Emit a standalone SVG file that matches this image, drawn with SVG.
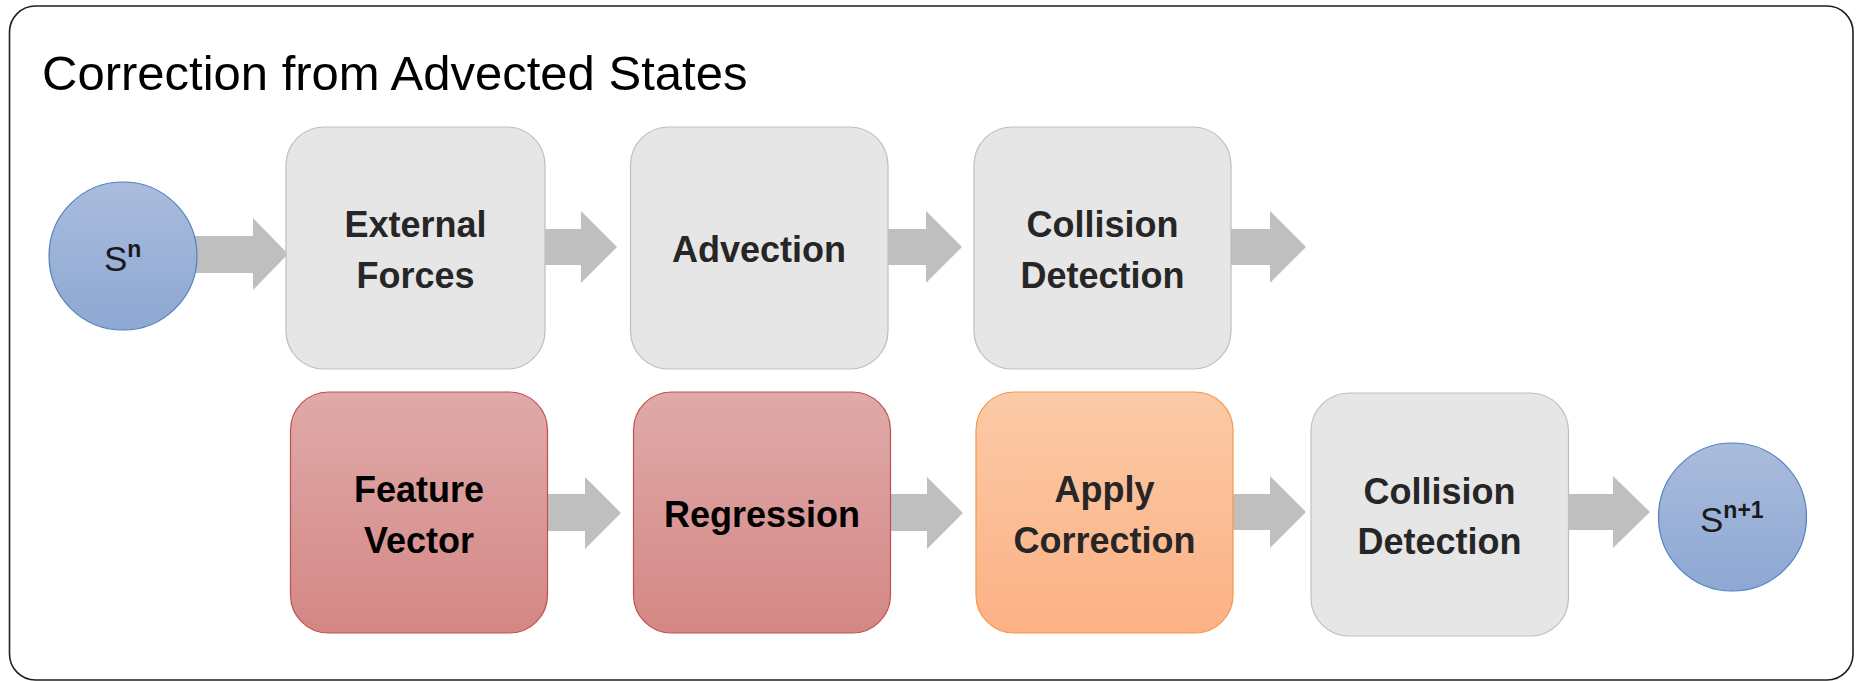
<svg xmlns="http://www.w3.org/2000/svg" width="1862" height="681" viewBox="0 0 1862 681">
<defs>
<linearGradient id="gBlue" x1="0" y1="0" x2="0" y2="1"><stop offset="0" stop-color="#aabcdd"/><stop offset="1" stop-color="#8da8d3"/></linearGradient>
<linearGradient id="gRed" x1="0" y1="0" x2="0" y2="1"><stop offset="0" stop-color="#dfaaa9"/><stop offset="1" stop-color="#d48785"/></linearGradient>
<linearGradient id="gOrange" x1="0" y1="0" x2="0" y2="1"><stop offset="0" stop-color="#fbcaa7"/><stop offset="1" stop-color="#fcb185"/></linearGradient>
</defs>
<style>
.frame{fill:#ffffff;stroke:#1f1f1f;stroke-width:1.6}
.title{font-family:"Liberation Sans",Arial,sans-serif;font-size:49px;fill:#000}
.gray{fill:#e6e6e6;stroke:#bfbfbf;stroke-width:1.2}
.red{fill:url(#gRed);stroke:#c0504d;stroke-width:1.2}
.orange{fill:url(#gOrange);stroke:#f79646;stroke-width:1.2}
.state{fill:url(#gBlue);stroke:#4f81bd;stroke-width:1.2}
.lbl{font-family:"Liberation Sans",Arial,sans-serif;font-weight:bold;font-size:36px;text-anchor:middle;fill:#262626}
.lblk{fill:#000}
.slbl{font-family:"Liberation Sans",Arial,sans-serif;font-size:35px;fill:#1a1a1a}
.sup{font-size:23px;font-weight:bold}
.arrow{fill:#bfbfbf;stroke:none}
</style>
<rect class="frame" x="9.5" y="6" width="1843.5" height="674" rx="26" ry="26"/>
<text class="title" x="42" y="90">Correction from Advected States</text>

<g id="connectors">
<polygon class="arrow" points="190,236 253,236 253,218 288,254 253,290 253,273 190,273"/>
<polygon class="arrow" points="545,229 581,229 581,211 617,247 581,283 581,265 545,265"/>
<polygon class="arrow" points="888,229 926,229 926,211 962,247 926,283 926,265 888,265"/>
<polygon class="arrow" points="1231,229 1270,229 1270,211 1306,247 1270,283 1270,265 1231,265"/>
<polygon class="arrow" points="547,494 585,494 585,477 621,513 585,549 585,531 547,531"/>
<polygon class="arrow" points="890,494 927,494 927,477 963,513 927,549 927,531 890,531"/>
<polygon class="arrow" points="1233,494 1270,494 1270,476 1306,512 1270,548 1270,530 1233,530"/>
<polygon class="arrow" points="1568,494 1613,494 1613,476 1650,512 1613,548 1613,530 1568,530"/>
</g>

<g id="node-sn">
<ellipse class="state" cx="123" cy="256" rx="74" ry="74"/>
<text class="slbl" x="104" y="271">S<tspan class="sup" dy="-14">n</tspan></text>
</g>

<g id="node-external-forces">
<rect class="gray" x="286" y="127" width="259" height="242" rx="38" ry="38"/>
<text class="lbl" x="415.5" y="237">External</text>
<text class="lbl" x="415.5" y="288">Forces</text>
</g>

<g id="node-advection">
<rect class="gray" x="630.5" y="127" width="257.5" height="242" rx="38" ry="38"/>
<text class="lbl" x="759" y="262">Advection</text>
</g>

<g id="node-collision-top">
<rect class="gray" x="974" y="127" width="257" height="242" rx="38" ry="38"/>
<text class="lbl" x="1102.5" y="237">Collision</text>
<text class="lbl" x="1102.5" y="288">Detection</text>
</g>

<g id="node-feature-vector">
<rect class="red" x="290.5" y="392" width="257" height="241" rx="38" ry="38"/>
<text class="lbl lblk" x="419" y="502">Feature</text>
<text class="lbl lblk" x="419" y="553">Vector</text>
</g>

<g id="node-regression">
<rect class="red" x="633.5" y="392" width="257" height="241" rx="38" ry="38"/>
<text class="lbl lblk" x="762" y="527">Regression</text>
</g>

<g id="node-apply-correction">
<rect class="orange" x="976" y="392" width="257" height="241" rx="38" ry="38"/>
<text class="lbl" x="1104.5" y="502">Apply</text>
<text class="lbl" x="1104.5" y="553">Correction</text>
</g>

<g id="node-collision-bottom">
<rect class="gray" x="1311" y="393" width="257.5" height="243" rx="38" ry="38"/>
<text class="lbl" x="1439.5" y="504">Collision</text>
<text class="lbl" x="1439.5" y="554">Detection</text>
</g>

<g id="node-sn1">
<ellipse class="state" cx="1732.5" cy="517" rx="74" ry="74"/>
<text class="slbl" x="1700" y="532">S<tspan class="sup" dy="-14">n+1</tspan></text>
</g>
</svg>
